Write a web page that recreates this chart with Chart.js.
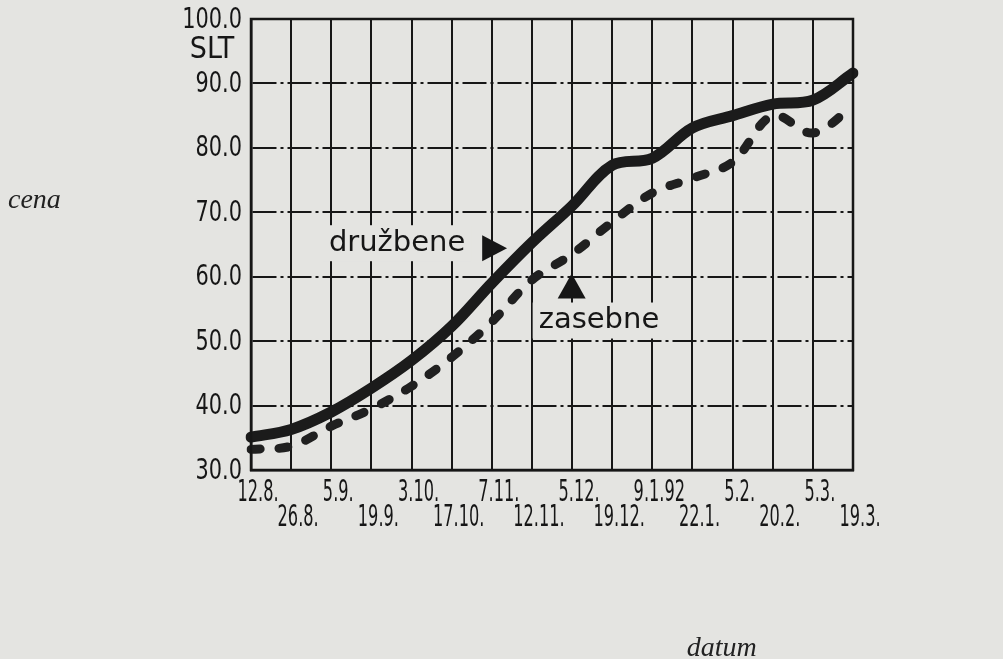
<!DOCTYPE html>
<html>
<head>
<meta charset="utf-8">
<script src="https://cdn.jsdelivr.net/npm/chart.js@4.4.1/dist/chart.umd.min.js"></script>
<style>
  html, body { margin: 0; padding: 0; background: #e4e4e1; }
  canvas { display: block; }
</style>
</head>
<body>
<canvas id="grafCena" width="1003" height="659"></canvas>
<script>
// datumi pod x osjo (izmenicno zgoraj / spodaj)
const datumi = ['12.8.', '26.8.', '5.9.', '19.9.', '3.10.', '17.10.', '7.11.', '12.11.',
                '5.12.', '19.12.', '9.1.92', '22.1.', '5.2.', '20.2.', '5.3.', '19.3.'];

// cena v SLT, odcitano s slike
const cenaDruzbene = [35.1, 36.3, 39.0, 42.7, 47.0, 52.3, 59.0, 65.3,
                      71.0, 77.3, 78.4, 83.1, 85.0, 86.8, 87.4, 91.6];
const cenaZasebne  = [33.2, 33.7, 36.8, 39.5, 43.0, 47.5, 53.0, 59.5,
                      63.5, 68.5, 73.0, 75.3, 77.8, 85.0, 82.3, 86.5];

// y os
const yMin = 30;
const yMax = 100;
const yKorak = 10;

// barve in pisave
const barvaOzadja = '#e4e4e1';
const barvaCrnila = '#161616';
const pisavaOzka  = "'Liberation Sans Narrow', 'DejaVu Sans Condensed', 'Arial Narrow', sans-serif";
const pisavaSerif = "'Liberation Serif', 'DejaVu Serif', serif";
const pisavaOznak = "'DejaVu Sans', sans-serif";

// napis z ozadjem, da prekrije mrezo
function napisZOzadjem(ctx, besedilo, x, y, font) {
  ctx.save();
  ctx.font = font;
  ctx.textAlign = 'center';
  ctx.textBaseline = 'middle';
  const sirina = ctx.measureText(besedilo).width;
  ctx.fillStyle = barvaOzadja;
  ctx.fillRect(x - sirina / 2 - 6, y - 18, sirina + 12, 36);
  ctx.fillStyle = barvaCrnila;
  ctx.fillText(besedilo, x, y);
  ctx.restore();
}

// zozan tekst (originalne oznake so zelo ozke)
function ozekTekst(ctx, besedilo, x, y, faktor) {
  ctx.save();
  ctx.translate(x, y);
  ctx.scale(faktor, 1);
  ctx.fillText(besedilo, 0, 0);
  ctx.restore();
}

const napisiPlugin = {
  id: 'napisi',
  beforeDraw(chart) {
    const ctx = chart.ctx;
    ctx.save();
    ctx.fillStyle = barvaOzadja;
    ctx.fillRect(0, 0, chart.width, chart.height);
    ctx.restore();
  },
  beforeDatasetsDraw(chart) {
    const ctx = chart.ctx;
    const xs = chart.scales.x;
    const ys = chart.scales.y;
    napisZOzadjem(ctx, 'družbene', xs.getPixelForValue(3.64), ys.getPixelForValue(65.2), '29px ' + pisavaOznak);
    napisZOzadjem(ctx, 'zasebne', xs.getPixelForValue(8.67), ys.getPixelForValue(53.2), '29px ' + pisavaOznak);
  },
  afterDatasetsDraw(chart) {
    const ctx = chart.ctx;
    const xs = chart.scales.x;
    const ys = chart.scales.y;
    const a = chart.chartArea;
    ctx.save();

    // okvir grafa
    ctx.strokeStyle = barvaCrnila;
    ctx.lineWidth = 2.5;
    ctx.strokeRect(a.left, a.top, a.right - a.left, a.bottom - a.top);

    // puscica za druzbene (desno)
    ctx.fillStyle = barvaCrnila;
    const yD = ys.getPixelForValue(64.4);
    ctx.beginPath();
    ctx.moveTo(xs.getPixelForValue(5.76), yD - 13);
    ctx.lineTo(xs.getPixelForValue(6.38), yD);
    ctx.lineTo(xs.getPixelForValue(5.76), yD + 13);
    ctx.closePath();
    ctx.fill();

    // puscica za zasebne (gor)
    const xZ = xs.getPixelForValue(7.99);
    ctx.beginPath();
    ctx.moveTo(xZ, ys.getPixelForValue(60.5));
    ctx.lineTo(xZ + 14, ys.getPixelForValue(56.6));
    ctx.lineTo(xZ - 14, ys.getPixelForValue(56.6));
    ctx.closePath();
    ctx.fill();

    // oznake y osi, desno poravnane
    ctx.font = '29px ' + pisavaOzka;
    ctx.textAlign = 'right';
    ctx.textBaseline = 'middle';
    ys.ticks.forEach((t, i) => {
      ozekTekst(ctx, t.value.toFixed(1), a.left - 9, ys.getPixelForTick(i) + 1, 0.8);
    });

    // datumi v dveh vrstah
    ctx.font = '31px ' + pisavaOzka;
    ctx.textAlign = 'center';
    xs.ticks.forEach((t, i) => {
      const y = xs.top + (i % 2 ? 48 : 23);
      ozekTekst(ctx, datumi[i], xs.getPixelForTick(i) + 7, y, 0.58);
    });

    // enota pod 100.0
    ctx.font = '30px ' + pisavaOzka;
    ctx.fillText('SLT', a.left - 39, ys.getPixelForValue(95.1));

    // naslova osi
    ctx.font = 'italic 28px ' + pisavaSerif;
    ctx.fillStyle = '#222';
    ctx.textAlign = 'left';
    ctx.textBaseline = 'alphabetic';
    ctx.fillText('cena', 8, ys.getPixelForValue(70.6));
    ctx.textAlign = 'center';
    ctx.fillText('datum', xs.getPixelForValue(11.73), chart.height - 3);
    ctx.restore();
  }
};

new Chart(document.getElementById('grafCena'), {
  type: 'line',
  data: {
    labels: datumi,
    datasets: [
      {
        label: 'družbene',
        data: cenaDruzbene,
        borderColor: '#1b1b1b',
        borderWidth: 11,
        borderCapStyle: 'round',
        borderJoinStyle: 'round',
        tension: 0.35,
        pointRadius: 0,
        fill: false
      },
      {
        label: 'zasebne',
        data: cenaZasebne,
        borderColor: '#202020',
        borderWidth: 9,
        borderDash: [9, 19],
        borderCapStyle: 'round',
        borderJoinStyle: 'round',
        tension: 0.35,
        pointRadius: 0,
        fill: false
      }
    ]
  },
  options: {
    responsive: false,
    animation: false,
    layout: { padding: { top: 19, right: 150, left: 0, bottom: 0 } },
    plugins: {
      legend: { display: false },
      tooltip: { enabled: false }
    },
    scales: {
      x: {
        grid: { color: barvaCrnila, lineWidth: 2, drawTicks: false },
        border: { color: barvaCrnila, width: 2.5 },
        // oznake risem sama (zozane), os jih samo razporedi
        ticks: { display: false, autoSkip: false, maxRotation: 0 },
        afterFit: (os) => { os.height = 189; }
      },
      y: {
        min: yMin,
        max: yMax,
        grid: { color: barvaCrnila, lineWidth: 2, drawTicks: false },
        border: { color: barvaCrnila, width: 2.5, dash: [24, 4, 3, 4] },
        ticks: { display: false, stepSize: yKorak },
        afterFit: (os) => { os.width = 251; }
      }
    }
  },
  plugins: [napisiPlugin]
});
</script>
</body>
</html>
